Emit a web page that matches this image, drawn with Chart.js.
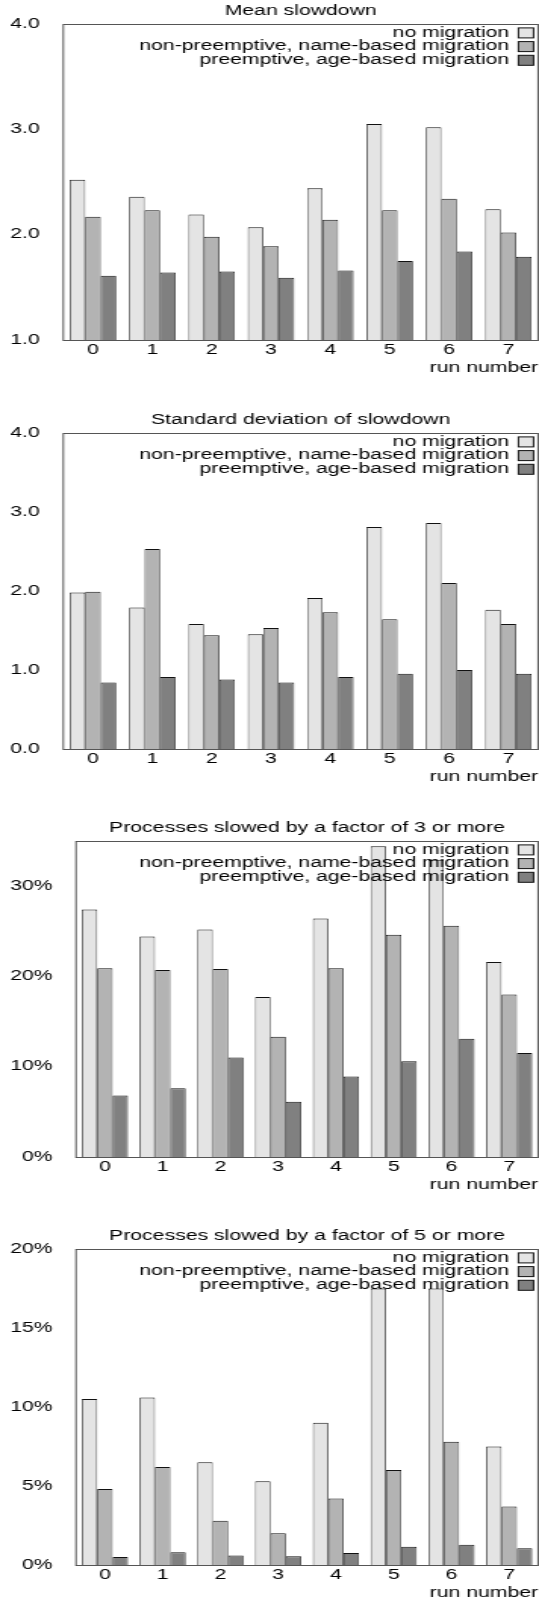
<!DOCTYPE html>
<html>
<head>
<meta charset="utf-8">
<script src="https://cdn.jsdelivr.net/npm/chart.js@4.4.1/dist/chart.umd.min.js"></script>
<style>
  html, body { margin: 0; padding: 0; background: #fff; width: 539px; height: 1600px; overflow: hidden; }
  /* the original figure is stretched sideways, so each panel is drawn narrow and widened */
  .panel { position: absolute; left: 0; width: 356px; height: 409px; transform: scaleX(1.514); transform-origin: 0 0; }
</style>
</head>
<body>
<div class="panel" style="top:0px"><canvas id="mean" width="356" height="409"></canvas></div>
<div class="panel" style="top:409px"><canvas id="stddev" width="356" height="409"></canvas></div>
<div class="panel" style="top:817px"><canvas id="factor3" width="356" height="409"></canvas></div>
<div class="panel" style="top:1225px"><canvas id="factor5" width="356" height="409"></canvas></div>
<script>
const runs = ['0', '1', '2', '3', '4', '5', '6', '7'];
const seriesNames = [
    'no migration',
    'non-preemptive, name-based migration',
    'preemptive, age-based migration'
];

// mean slowdown
const meanNone = [2.52, 2.36, 2.19, 2.07, 2.44, 3.05, 3.02, 2.24];
const meanName = [2.17, 2.23, 1.98, 1.89, 2.14, 2.23, 2.34, 2.02];
const meanAge  = [1.61, 1.64, 1.65, 1.59, 1.66, 1.75, 1.84, 1.79];

// standard deviation of slowdown
const sdNone = [1.98, 1.79, 1.58, 1.45, 1.91, 2.81, 2.86, 1.76];
const sdName = [1.99, 2.53, 1.44, 1.53, 1.73, 1.64, 2.10, 1.58];
const sdAge  = [0.84, 0.91, 0.88, 0.84, 0.91, 0.95, 1.00, 0.95];

// % of processes slowed by 3x or more
const f3None = [27.4, 24.4, 25.2, 17.7, 26.4, 34.4, 32.9, 21.6];
const f3Name = [20.9, 20.7, 20.8, 13.3, 20.9, 24.6, 25.6, 18.0];
const f3Age  = [6.8, 7.6, 11.0, 6.1, 8.9, 10.6, 13.1, 11.5];

// % of processes slowed by 5x or more
const f5None = [10.5, 10.6, 6.5, 5.3, 9.0, 17.5, 17.5, 7.5];
const f5Name = [4.8, 6.2, 2.8, 2.0, 4.2, 6.0, 7.8, 3.7];
const f5Age  = [0.5, 0.8, 0.6, 0.55, 0.75, 1.15, 1.27, 1.05];

const fillColors = ['#e4e4e4', '#b3b3b3', '#808080'];
const fontFamily = '"Liberation Sans", Arial, sans-serif';

Chart.defaults.font.family = fontFamily;
Chart.defaults.font.size = 14;
Chart.defaults.color = '#000';

// box round the plot area
const framePlugin = {
    id: 'frame',
    beforeDatasetsDraw(chart) {
        const a = chart.chartArea;
        const ctx = chart.ctx;
        ctx.save();
        ctx.strokeStyle = '#555';
        ctx.lineWidth = 1;
        ctx.strokeRect(a.left, Math.round(a.top) + 0.5, a.right - a.left, Math.round(a.bottom) - Math.round(a.top));
        ctx.restore();
    }
};

// gnuplot style key: text right aligned, sample box after it
const keyPlugin = {
    id: 'key',
    afterDatasetsDraw(chart) {
        const a = chart.chartArea;
        const ctx = chart.ctx;
        ctx.save();
        ctx.font = '14px ' + fontFamily;
        ctx.textAlign = 'right';
        ctx.textBaseline = 'middle';
        chart.data.datasets.forEach((ds, i) => {
            const y = a.top + 9 + i * 13.7;
            const bx = a.right - 13;
            ctx.fillStyle = ds.backgroundColor;
            ctx.fillRect(bx, y - 5, 10, 10);
            ctx.strokeStyle = '#111';
            ctx.lineWidth = 1;
            ctx.strokeRect(bx, y - 5, 10, 10);
            ctx.fillStyle = '#000';
            ctx.fillText(ds.label, bx - 6, y);
        });
        ctx.restore();
    }
};

function makeChart(id, title, values, yMin, yMax, step, fmt, leftWidth, catPct) {
    const datasets = values.map((data, i) => ({
        label: seriesNames[i],
        data: data,
        backgroundColor: fillColors[i],
        borderColor: '#111',
        borderWidth: {top: 1, left: 0.75, right: 0.75, bottom: 0},
        categoryPercentage: catPct,
        barPercentage: 1
    }));

    return new Chart(document.getElementById(id), {
        type: 'bar',
        data: { labels: runs, datasets: datasets },
        plugins: [framePlugin, keyPlugin],
        options: {
            responsive: false,
            animation: false,
            layout: { padding: {top: 0, right: 0.6, bottom: 32.3, left: 0} },
            plugins: {
                legend: { display: false },
                tooltip: { enabled: false },
                title: {
                    display: true,
                    text: title,
                    fullSize: false,
                    color: '#000',
                    font: { size: 14, weight: 'normal' },
                    padding: {top: 2, bottom: 4}
                }
            },
            scales: {
                x: {
                    grid: { display: false, drawTicks: false },
                    border: { display: false },
                    ticks: { padding: 1.6, maxRotation: 0, autoSkip: false },
                    title: {
                        display: true,
                        text: 'run number',
                        align: 'end',
                        padding: {top: 0, bottom: 0}
                    }
                },
                y: {
                    min: yMin,
                    max: yMax,
                    grid: { display: false, drawTicks: false },
                    border: { display: false },
                    ticks: { stepSize: step, padding: 15.5, callback: fmt },
                    afterFit(scale) { scale.width = leftWidth; }
                }
            }
        }
    });
}

const oneDecimal = v => v.toFixed(1);
const percent = step => v => (v % step === 0 ? v + '%' : null);

makeChart('mean', 'Mean slowdown', [meanNone, meanName, meanAge], 1, 4, 1, oneDecimal, 41.8, 0.782);
makeChart('stddev', 'Standard deviation of slowdown', [sdNone, sdName, sdAge], 0, 4, 1, oneDecimal, 41.8, 0.782);
makeChart('factor3', 'Processes slowed by a factor of 3 or more', [f3None, f3Name, f3Age], 0, 35, 10, percent(10), 50.2, 0.798);
makeChart('factor5', 'Processes slowed by a factor of 5 or more', [f5None, f5Name, f5Age], 0, 20, 5, percent(5), 50.2, 0.798);
</script>
</body>
</html>
